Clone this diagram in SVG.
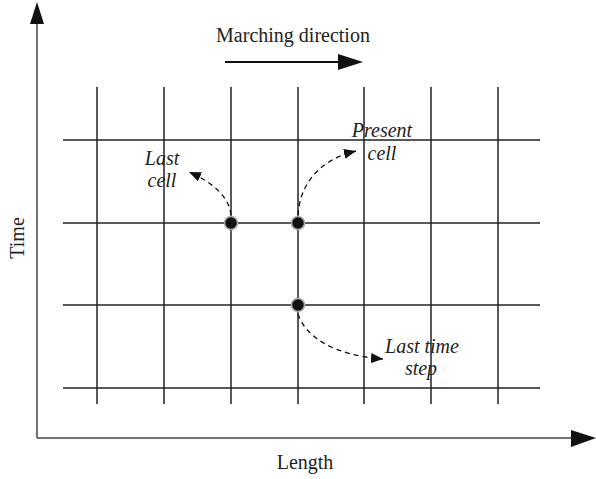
<svg xmlns="http://www.w3.org/2000/svg" width="596" height="479" viewBox="0 0 596 479">
<style>
.g{stroke:#222;stroke-width:1.5;fill:none}
.ax{stroke:#444;stroke-width:1.5;fill:none}
.d{stroke:#111;stroke-width:1.3;fill:none;stroke-dasharray:5,4}
.t{font-family:"Liberation Serif",serif;font-size:20px;fill:#222}
.i{font-family:"Liberation Serif",serif;font-size:20px;font-style:italic;fill:#222}
.n{fill:#111;stroke:#aaa;stroke-width:1.5}
</style>
<defs>
<marker id="sm" markerWidth="12" markerHeight="10" refX="12" refY="5" orient="auto" markerUnits="userSpaceOnUse" viewBox="0 0 12 10"><path d="M0,0 L12,5 L0,10 Z" fill="#111"/></marker>
</defs>
<g id="grid">
<line class="g" x1="97" y1="87" x2="97" y2="404"/>
<line class="g" x1="164" y1="87" x2="164" y2="404"/>
<line class="g" x1="231" y1="87" x2="231" y2="404"/>
<line class="g" x1="298" y1="87" x2="298" y2="404"/>
<line class="g" x1="364" y1="87" x2="364" y2="404"/>
<line class="g" x1="431" y1="87" x2="431" y2="404"/>
<line class="g" x1="498" y1="87" x2="498" y2="404"/>
<line class="g" x1="63" y1="140" x2="540" y2="140"/>
<line class="g" x1="63" y1="223" x2="540" y2="223"/>
<line class="g" x1="63" y1="305" x2="540" y2="305"/>
<line class="g" x1="63" y1="388" x2="540" y2="388"/>
</g>
<g id="axes">
<line class="ax" x1="37" y1="438" x2="37" y2="22"/>
<path d="M37,2 L30,24 L44,24 Z" fill="#111"/>
<line class="ax" x1="37" y1="438" x2="572" y2="438"/>
<path d="M596,438 L571,430 L571,447 Z" fill="#111"/>
<line x1="225" y1="62" x2="340" y2="62" stroke="#111" stroke-width="2"/>
<path d="M363,62 L338,54 L338,70 Z" fill="#111"/>
</g>
<g id="connectors">
<path class="d" d="M231,215 C229,197 214,183 189,172" marker-end="url(#sm)"/>
<path class="d" d="M298,215 C300,185 318,160 356,151" marker-end="url(#sm)"/>
<path class="d" d="M298,314 C305,335 330,355 383,359" marker-end="url(#sm)"/>
</g>
<g id="node-last"><circle class="n" cx="231" cy="223" r="6.5"/></g>
<g id="node-present"><circle class="n" cx="298" cy="223" r="6.5"/></g>
<g id="node-lasttime"><circle class="n" cx="298" cy="305" r="6.5"/></g>
<g id="labels">
<text class="t" x="293" y="42" text-anchor="middle">Marching direction</text>
<text class="t" x="305" y="469" text-anchor="middle">Length</text>
<text class="t" transform="translate(24,238) rotate(-90)" text-anchor="middle">Time</text>
<text class="i" x="162" y="165" text-anchor="middle">Last</text>
<text class="i" x="162" y="187" text-anchor="middle">cell</text>
<text class="i" x="382" y="137" text-anchor="middle">Present</text>
<text class="i" x="382" y="160" text-anchor="middle">cell</text>
<text class="i" x="422" y="353" text-anchor="middle">Last time</text>
<text class="i" x="421" y="375" text-anchor="middle">step</text>
</g>
</svg>
